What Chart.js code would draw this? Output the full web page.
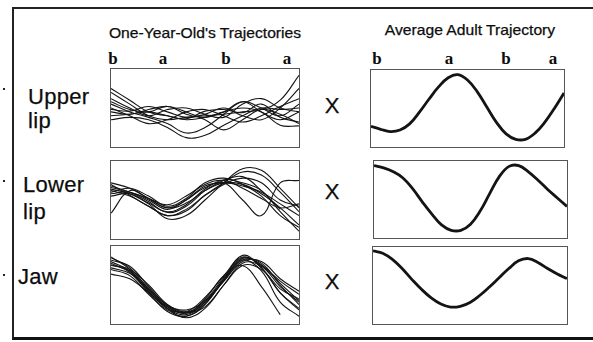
<!DOCTYPE html>
<html><head><meta charset="utf-8">
<script src="https://cdn.jsdelivr.net/npm/chart.js@4.4.1/dist/chart.umd.min.js"></script>
<style>
body{margin:0;background:#fff;width:593px;height:342px;position:relative;overflow:hidden;font-family:"Liberation Sans",Arial,sans-serif;color:#0c0c0c}
.t{position:absolute;white-space:nowrap;line-height:1;-webkit-text-stroke:0.25px #111}
.lbl{font-size:22px;letter-spacing:0.3px}
.ba{font-family:"Liberation Serif","Times New Roman",serif;font-size:17px;font-weight:bold;transform:translateX(-50%);-webkit-text-stroke:0}
.ttl{font-size:14.5px;transform:translateX(-50%) scaleX(1.08)}
.x{font-size:22px;transform:translateX(-50%)}
.box{position:absolute;border:1px solid #555;box-sizing:border-box}
.box canvas{display:block}
.dot{position:absolute;width:2px;height:2px;background:#222}
#frame{position:absolute;left:12px;top:7px;width:590px;height:333px;box-sizing:border-box;border-top:2px solid #222;border-left:2px solid #222;border-bottom:3px solid #111}
</style></head>
<body>
<div id="frame"></div>
<div class="dot" style="left:3px;top:88px"></div>
<div class="dot" style="left:3px;top:180px"></div>
<div class="dot" style="left:3px;top:274px"></div>

<div class="t ttl" style="left:205px;top:26px">One-Year-Old's Trajectories</div>
<div class="t ttl" style="left:470px;top:23px">Average Adult Trajectory</div>

<div class="t lbl" style="left:28px;top:86px">Upper</div>
<div class="t lbl" style="left:28px;top:110px">lip</div>
<div class="t lbl" style="left:23px;top:174px">Lower</div>
<div class="t lbl" style="left:23px;top:201px">lip</div>
<div class="t lbl" style="left:18px;top:266px">Jaw</div>

<div class="t x" style="left:332px;top:95px">X</div>
<div class="t x" style="left:332px;top:181px">X</div>
<div class="t x" style="left:332px;top:271px">X</div>

<div id="wrap"></div>
<script>
// phase markers above each column
const leftMarks = [['b',113],['a',163],['b',226],['a',287]];
const rightMarks = [['b',377],['a',449],['b',506],['a',553]];

// normalised time steps (0..1)
const steps = ['0','0.1','0.2','0.3','0.4','0.5','0.6','0.7','0.8','0.9','1'];
const adultSteps = ['0','0.05','0.1','0.15','0.2','0.25','0.3','0.35','0.4','0.45','0.5','0.55','0.6','0.65','0.7','0.75','0.8','0.85','0.9','0.95','1'];

// one-year-old trajectories (normalised position)
const upperLipChild = [
  [0.70,0.55,0.40,0.35,0.38,0.40,0.42,0.45,0.48,0.60,0.92],
  [0.62,0.50,0.40,0.48,0.50,0.42,0.38,0.55,0.62,0.50,0.45],
  [0.55,0.45,0.38,0.30,0.18,0.25,0.42,0.58,0.50,0.40,0.55],
  [0.45,0.42,0.48,0.52,0.45,0.35,0.22,0.35,0.48,0.42,0.30],
  [0.40,0.42,0.45,0.40,0.35,0.38,0.45,0.50,0.45,0.28,0.27],
  [0.35,0.38,0.35,0.25,0.12,0.15,0.28,0.40,0.50,0.48,0.50],
  [0.50,0.40,0.30,0.35,0.45,0.48,0.40,0.32,0.40,0.52,0.62],
  [0.58,0.48,0.45,0.52,0.42,0.38,0.45,0.58,0.45,0.35,0.45],
  [0.48,0.46,0.52,0.45,0.38,0.42,0.50,0.40,0.35,0.50,0.75],
  [0.75,0.60,0.45,0.40,0.36,0.46,0.48,0.44,0.55,0.38,0.32]
];
const lowerLipChild = [
  [0.72,0.65,0.52,0.40,0.46,0.62,0.72,0.70,0.58,0.40,0.18],
  [0.66,0.60,0.48,0.34,0.42,0.62,0.75,0.80,0.62,0.38,null],
  [0.62,0.55,0.42,0.30,0.38,0.56,0.72,0.86,0.82,0.60,0.35],
  [0.58,0.60,0.50,0.38,0.50,0.66,0.72,0.50,0.30,0.72,0.75],
  [0.55,0.58,0.45,0.26,0.30,0.50,0.72,0.90,0.88,0.65,0.40],
  [0.33,0.62,0.52,0.40,0.50,0.68,0.72,0.68,0.60,0.45,0.30],
  [0.68,0.60,0.52,0.44,0.55,0.70,0.75,0.65,0.52,0.40,0.45],
  [0.64,0.58,0.46,0.35,0.44,0.64,0.76,0.72,0.62,0.35,0.10],
  [0.60,0.65,0.55,0.42,0.52,0.72,0.78,0.70,0.55,0.30,0.15],
  [0.70,0.56,0.42,0.30,0.36,0.56,0.70,0.78,0.72,0.50,0.42]
];
const jawChild = [
  [0.85,0.72,0.45,0.22,0.15,0.30,0.60,0.85,0.75,0.55,0.38],
  [0.80,0.68,0.42,0.20,0.12,0.28,0.55,0.82,0.78,0.50,0.25],
  [0.75,0.70,0.50,0.25,0.15,0.22,0.50,0.75,0.70,0.45,0.32],
  [0.70,0.62,0.38,0.18,0.10,0.25,0.58,0.88,0.72,0.40,0.20],
  [0.64,0.58,0.40,0.22,0.14,0.32,0.62,0.75,0.48,0.12,null],
  [0.82,0.74,0.48,0.24,0.18,0.30,0.55,0.80,0.80,0.58,0.42],
  [0.78,0.66,0.40,0.16,0.10,0.26,0.56,0.84,0.76,0.52,0.30],
  [0.72,0.65,0.44,0.20,0.08,0.20,0.50,0.78,0.74,0.48,0.28],
  [0.86,0.70,0.42,0.20,0.16,0.34,0.62,0.86,0.72,0.40,0.18],
  [0.76,0.68,0.46,0.24,0.14,0.28,0.58,0.82,0.68,0.28,0.10]
];

// average adult trajectories
const upperLipAdult = [0.27,0.23,0.20,0.22,0.30,0.45,0.62,0.78,0.90,0.94,0.87,0.72,0.52,0.32,0.17,0.10,0.10,0.18,0.32,0.50,0.70];
const lowerLipAdult = [0.94,0.91,0.86,0.78,0.64,0.47,0.31,0.17,0.10,0.10,0.18,0.35,0.58,0.80,0.93,0.94,0.86,0.75,0.63,0.52,0.41];
const jawAdult = [0.95,0.92,0.84,0.72,0.58,0.45,0.34,0.26,0.22,0.23,0.28,0.37,0.48,0.60,0.72,0.82,0.85,0.80,0.72,0.65,0.59];

const wrap = document.getElementById('wrap');

leftMarks.concat(rightMarks).forEach(([s,x])=>{
  const d = document.createElement('div');
  d.className = 't ba';
  d.style.left = x+'px'; d.style.top = '50px';
  d.textContent = s;
  wrap.appendChild(d);
});

function panel(x,y,w,h,labels,series,lw){
  const box = document.createElement('div');
  box.className = 'box';
  Object.assign(box.style,{left:x+'px',top:y+'px',width:w+'px',height:h+'px'});
  const cv = document.createElement('canvas');
  cv.width = w-2; cv.height = h-2;
  box.appendChild(cv);
  wrap.appendChild(box);
  new Chart(cv,{
    type:'line',
    data:{labels, datasets: series.map(d=>({data:d,borderColor:'#141414',borderWidth:lw,pointRadius:0,tension:0.4,fill:false}))},
    options:{
      responsive:false, animation:false,
      layout:{padding:0},
      plugins:{legend:{display:false},tooltip:{enabled:false}},
      scales:{
        x:{display:false},
        y:{display:false,min:0,max:1}
      }
    }
  });
}

panel(110,68,190,80,steps,upperLipChild,1.1);
panel(110,160,190,80,steps,lowerLipChild,1.1);
panel(110,245,190,80,steps,jawChild,1.1);
panel(370,69,195,79,adultSteps,[upperLipAdult],2.8);
panel(373,160,195,79,adultSteps,[lowerLipAdult],2.8);
panel(372,246,196,79,adultSteps,[jawAdult],2.8);
</script>
</body></html>
